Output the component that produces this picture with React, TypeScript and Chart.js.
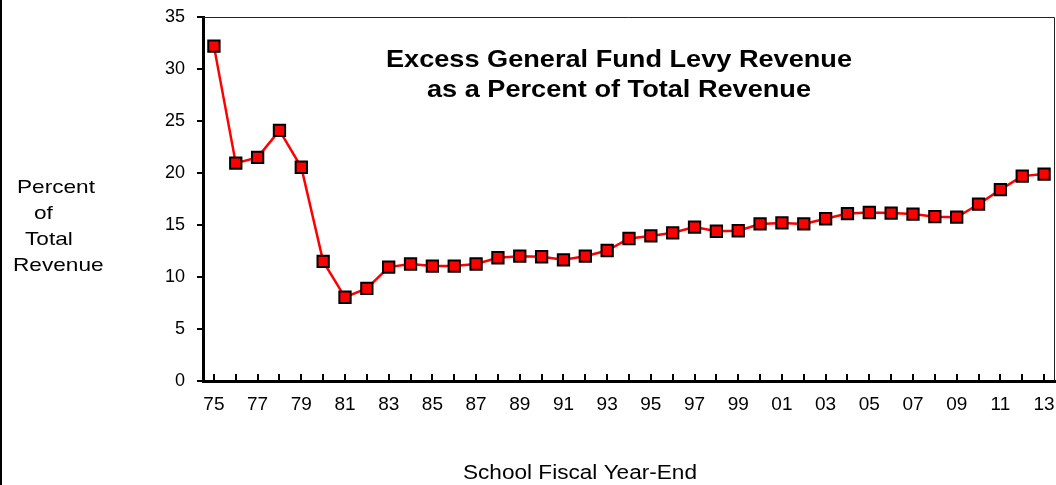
import React, { useEffect, useRef } from "react";
import { Chart, registerables } from "chart.js";

Chart.register(...registerables);

const years = [
  "75", "76", "77", "78", "79", "80", "81", "82", "83", "84", "85", "86", "87",
  "88", "89", "90", "91", "92", "93", "94", "95", "96", "97", "98", "99", "00",
  "01", "02", "03", "04", "05", "06", "07", "08", "09", "10", "11", "12", "13",
];

const percentOfRevenue = [
  32.2, 20.95, 21.5, 24.1, 20.55, 11.5, 8.05, 8.9, 10.95, 11.25, 11.05, 11.05, 11.25,
  11.85, 12.0, 11.95, 11.65, 12.0, 12.55, 13.7, 13.95, 14.25, 14.8, 14.4, 14.45, 15.1,
  15.2, 15.1, 15.6, 16.1, 16.2, 16.15, 16.05, 15.8, 15.75, 17.0, 18.4, 19.7, 19.9,
];

const yTicks = { min: 0, max: 35, step: 5 };

const titleLines = ["Excess General Fund Levy Revenue", "as a Percent of Total Revenue"];
const yTitleLines = ["Percent", "of", "Total", "Revenue"];
const xTitle = "School Fiscal Year-End";

const FONT = "'Liberation Sans', Arial, Helvetica, sans-serif";

function fitScale(ctx: CanvasRenderingContext2D, text: string, font: string, width: number) {
  ctx.save();
  ctx.font = font;
  const w = ctx.measureText(text).width;
  ctx.restore();
  return w > 0 ? width / w : 1;
}

function drawText(
  ctx: CanvasRenderingContext2D,
  text: string,
  x: number,
  y: number,
  font: string,
  align: CanvasTextAlign,
  sx: number
) {
  ctx.save();
  ctx.font = font;
  ctx.fillStyle = "#000";
  ctx.textBaseline = "middle";
  ctx.textAlign = align;
  ctx.translate(x, y);
  ctx.scale(sx, 1);
  ctx.fillText(text, 0, 0);
  ctx.restore();
}

const decorPlugin = {
  id: "decor",
  afterDraw(chart: any) {
    const ctx: CanvasRenderingContext2D = chart.ctx;
    const { left, right, top, bottom } = chart.chartArea;

    // outer left frame line
    ctx.save();
    ctx.strokeStyle = "#000";
    ctx.lineWidth = 2;
    ctx.beginPath();
    ctx.moveTo(1, 0);
    ctx.lineTo(1, chart.height);
    ctx.stroke();

    // thin plot-area frame (top & right)
    ctx.lineWidth = 1;
    ctx.strokeStyle = "#222";
    ctx.beginPath();
    ctx.moveTo(left, top + 0.5);
    ctx.lineTo(right - 0.5, top + 0.5);
    ctx.lineTo(right - 0.5, bottom);
    ctx.stroke();

    // inward x tick marks
    const xs = chart.scales.x;
    ctx.strokeStyle = "#000";
    ctx.lineWidth = 2;
    ctx.beginPath();
    for (let i = 0; i < years.length; i++) {
      const px = Math.round(xs.getPixelForValue(i));
      ctx.moveTo(px, bottom);
      ctx.lineTo(px, bottom - 7);
    }
    ctx.stroke();
    ctx.restore();

    // chart title
    const tFont = `bold 24px ${FONT}`;
    const tsx = fitScale(ctx, titleLines[0], tFont, 466);
    drawText(ctx, titleLines[0], 619, 60, tFont, "center", tsx);
    drawText(ctx, titleLines[1], 619, 90, tFont, "center", tsx);

    // y axis title (horizontal, stacked)
    const yFont = `19px ${FONT}`;
    const ysx = fitScale(ctx, yTitleLines[0], yFont, 78);
    const yLeft = [17, 34, 25, 13];
    const yMid = [188, 214, 240, 266];
    yTitleLines.forEach((t, i) => drawText(ctx, t, yLeft[i], yMid[i], yFont, "left", ysx));

    // x axis title
    const xFont = `20px ${FONT}`;
    const xsx = fitScale(ctx, xTitle, xFont, 234);
    drawText(ctx, xTitle, 580, 473, xFont, "center", xsx);
  },
};

export default function App() {
  const canvasRef = useRef<HTMLCanvasElement | null>(null);

  useEffect(() => {
    if (!canvasRef.current) return;
    const chart = new Chart(canvasRef.current, {
      type: "line",
      data: {
        labels: years,
        datasets: [
          {
            data: percentOfRevenue,
            borderColor: "#ff0000",
            borderWidth: 2.5,
            pointStyle: "rect",
            pointRadius: 8,
            pointHoverRadius: 8,
            pointBackgroundColor: "#ff0000",
            pointBorderColor: "#000",
            pointBorderWidth: 2,
            tension: 0,
            clip: false as any,
          },
        ],
      },
      options: {
        responsive: false,
        animation: false,
        devicePixelRatio: 1,
        layout: { autoPadding: false, padding: { top: 17, right: 1, left: 0, bottom: 0 } },
        plugins: {
          legend: { display: false },
          title: { display: false },
          tooltip: { enabled: false },
        },
        scales: {
          x: {
            type: "category",
            offset: true,
            afterFit: (s: any) => {
              s.height = 104;
              s.paddingLeft = 0;
              s.paddingRight = 0;
            },
            grid: { display: false, drawTicks: false, drawOnChartArea: false },
            border: { display: true, color: "#000", width: 3 },
            ticks: {
              autoSkip: false,
              maxRotation: 0,
              minRotation: 0,
              padding: 12,
              color: "#000",
              font: { family: FONT, size: 19 },
              callback: (_v: any, i: number) => (i % 2 === 0 ? years[i] : ""),
            },
          },
          y: {
            min: yTicks.min,
            max: yTicks.max,
            afterFit: (s: any) => {
              s.width = 203;
              s.paddingTop = 0;
              s.paddingBottom = 0;
            },
            grid: {
              drawOnChartArea: false,
              drawTicks: true,
              tickLength: 6,
              color: "#000",
              lineWidth: 2,
            },
            border: { display: true, color: "#000", width: 3 },
            ticks: {
              stepSize: yTicks.step,
              padding: 12,
              color: "#000",
              font: { family: FONT, size: 18 },
            },
          },
        },
      },
      plugins: [decorPlugin],
    });
    return () => chart.destroy();
  }, []);

  return (
    <div style={{ position: "absolute", left: 0, top: 0, width: 1056, height: 485, background: "#fff" }}>
      <canvas ref={canvasRef} width={1056} height={485} style={{ display: "block" }} />
    </div>
  );
}
